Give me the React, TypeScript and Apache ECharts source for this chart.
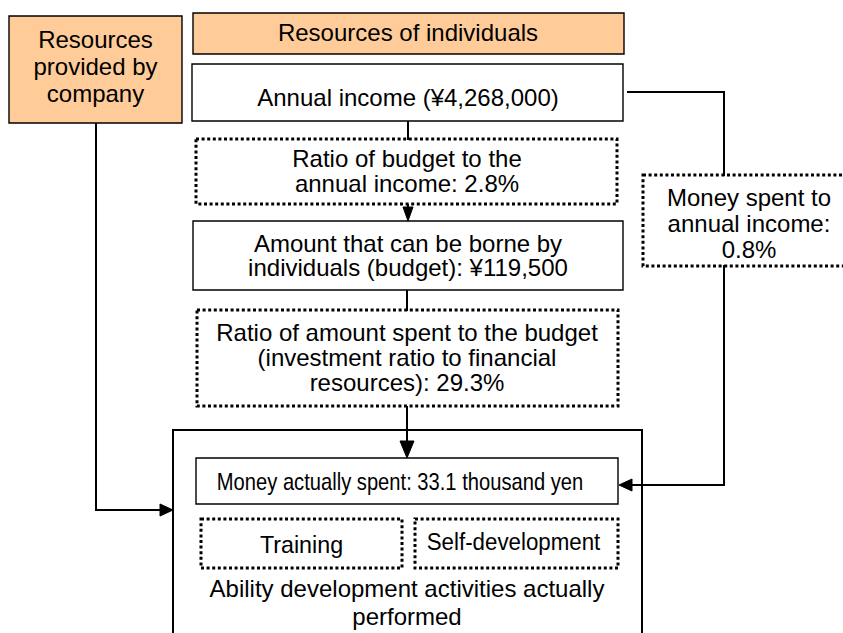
import React, { useEffect, useRef } from "react";
import * as echarts from "echarts";

// ---- data ----
const annualIncome = [4268000];
const budgetRatio = [2.8];
const budgetAmount = [119500];
const spentToBudgetRatio = [29.3];
const spentToIncomeRatio = [0.8];
const moneySpent = [33.1];
const headerLabels = ["Resources\nprovided by\ncompany", "Resources of individuals"];
const activityLabels = ["Training", "Self-development", "Ability development activities actually\nperformed"];

const FONT = '"Liberation Sans", Arial, Helvetica, sans-serif';
const ORANGE = "#FFCC99";
const yen = (v: number) => "¥" + v.toLocaleString("en-US");

function box(x: number, y: number, w: number, h: number, fill: string, dotted: boolean, lw = 1.4) {
  return {
    type: "rect",
    shape: { x, y, width: w, height: h },
    style: dotted
      ? { fill, stroke: "#000", lineWidth: 3, lineDash: [3, 2.6] }
      : { fill, stroke: "#000", lineWidth: lw },
  };
}

function txt(x: number, y: number, text: string, scaleX = 1, size = 24) {
  return {
    type: "text",
    x,
    y,
    scaleX,
    style: {
      x: 0,
      y: 0,
      text,
      fill: "#000",
      fontSize: size,
      fontFamily: FONT,
      align: "center",
      verticalAlign: "middle",
      lineHeight: size,
    },
  };
}

// multi-line text: one element per line, centred on yCenter
function lines(x: number, yCenter: number, text: string, spacing: number, scaleX = 1) {
  const parts = text.split("\n");
  const y0 = yCenter - ((parts.length - 1) * spacing) / 2;
  return parts.map((p, i) => txt(x, y0 + i * spacing, p, scaleX));
}

function line(points: number[][]) {
  return {
    type: "polyline",
    shape: { points },
    style: { stroke: "#000", lineWidth: 2, fill: null },
  };
}

function tri(points: number[][]) {
  return {
    type: "polygon",
    shape: { points },
    style: { fill: "#000", stroke: "#000", lineWidth: 1 },
  };
}

export default function App() {
  const ref = useRef<HTMLDivElement>(null);
  useEffect(() => {
    if (!ref.current) return;
    const chart = echarts.init(ref.current, null, { renderer: "svg" });
    const elements: any[] = [
      // big box (background)
      box(173, 430, 469, 230, "#fff", false, 2),
      // company box
      box(9, 16, 173, 107, ORANGE, false),
      ...lines(95.5, 66, headerLabels[0], 27),
      // individuals header
      box(193, 13, 431, 41, ORANGE, false),
      txt(408, 32, headerLabels[1]),
      // annual income
      box(192, 64, 431, 57, "#fff", false),
      txt(408, 97, `Annual income (${yen(annualIncome[0])})`),
      // ratio of budget
      box(196, 139, 421, 65, "#fff", true),
      ...lines(407, 171, `Ratio of budget to the\nannual income: ${budgetRatio[0]}%`, 24.6),
      // amount borne
      box(193, 221, 430, 69, "#fff", false),
      ...lines(408, 255.5, `Amount that can be borne by\nindividuals (budget): ${yen(budgetAmount[0])}`, 24.6),
      // ratio spent
      box(197, 310, 421, 96, "#fff", true),
      ...lines(
        407,
        357.5,
        `Ratio of amount spent to the budget\n(investment ratio to financial\nresources): ${spentToBudgetRatio[0]}%`,
        24.6
      ),
      // money spent to income
      box(643, 175, 215, 91, "#fff", true),
      ...lines(749, 223, `Money spent to\nannual income:\n${spentToIncomeRatio[0]}%`, 26),
      // money actually spent
      box(196, 458, 422, 46, "#fff", false, 1.4),
      txt(400, 482, `Money actually spent: ${moneySpent[0]} thousand yen`, 0.84),
      // training & self-dev
      box(201, 519, 201, 49, "#fff", true),
      txt(301.5, 545, activityLabels[0], 0.97),
      box(415, 519, 203, 49, "#fff", true),
      txt(513.5, 542, activityLabels[1], 0.93),
      ...lines(407, 602.5, activityLabels[2], 28.5),
      // connectors (on top)
      line([[96, 123], [96, 510], [162, 510]]),
      tri([[173, 510], [160, 504], [160, 516]]),
      line([[627, 92], [724, 92], [724, 176]]),
      line([[724, 265], [724, 485], [631, 485]]),
      tri([[619, 485], [632, 479], [632, 491]]),
      line([[408, 121], [408, 140]]),
      line([[408, 204], [408, 210]]),
      tri([[408, 221], [403, 207], [413, 207]]),
      line([[407, 290], [407, 311]]),
      line([[407, 406], [407, 444]]),
      tri([[407, 458], [400, 441], [414, 441]]),
    ];
    chart.setOption({
      animation: false,
      backgroundColor: "#fff",
      graphic: { elements },
    });
    return () => chart.dispose();
  }, []);
  return (
    <div
      ref={ref}
      style={{ position: "fixed", left: 0, top: 0, width: 843, height: 633, background: "#fff" }}
    />
  );
}
